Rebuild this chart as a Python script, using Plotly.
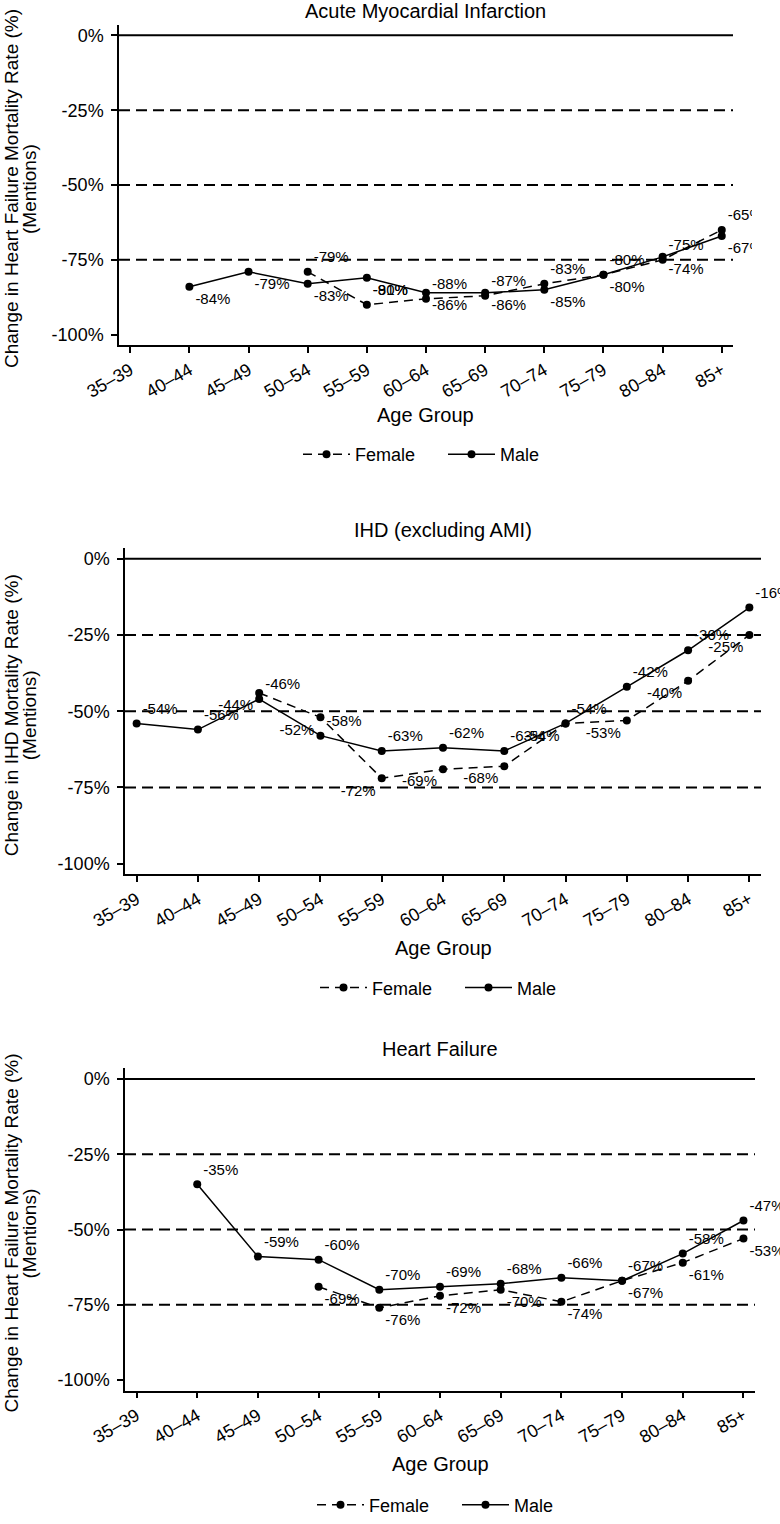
import plotly.graph_objects as go

# ---------------- data ----------------
ages = ["35–39", "40–44", "45–49", "50–54", "55–59", "60–64",
        "65–69", "70–74", "75–79", "80–84", "85+"]

ami_female = [None, None, None, -79, -90, -88, -87, -83, -80, -75, -65]
ami_male = [None, -84, -79, -83, -81, -86, -86, -85, -80, -74, -67]

ihd_female = [None, None, -44, -52, -72, -69, -68, -54, -53, -40, -25]
ihd_male = [-54, -56, -46, -58, -63, -62, -63, -54, -42, -30, -16]

hf_female = [None, None, None, -69, -76, -72, -70, -74, -67, -61, -53]
hf_male = [None, -35, -59, -60, -70, -69, -68, -66, -67, -58, -47]

ytick_vals = [0, -25, -50, -75, -100]
ytick_text = ["0%", "-25%", "-50%", "-75%", "-100%"]
ref_solid = [0]
ref_dashed = [-25, -50, -75]

panel_titles = ["Acute Myocardial Infarction", "IHD (excluding AMI)", "Heart Failure"]
ytitles = ["Change in Heart Failure Mortality Rate (%)",
           "Change in IHD Mortality Rate (%)",
           "Change in Heart Failure Mortality Rate (%)"]

# ---------------- layout geometry (pixels) ----------------
W, H = 780, 1524
FONT = "Liberation Sans, Arial, Helvetica, sans-serif"

panels = [
    dict(female=ami_female, male=ami_male, x=(119, 733), y=(25, 347),
         title_y=11, agegroup_y=417, legend_y=457, right_edge=752,
         fpos="top right", mpos="bottom right"),
    dict(female=ihd_female, male=ihd_male, x=(125, 761), y=(551, 879),
         title_y=533, agegroup_y=953, legend_y=993, right_edge=780,
         fpos="bottom left", mpos="top right"),
    dict(female=hf_female, male=hf_male, x=(125, 755), y=(1074, 1398),
         title_y=1055, agegroup_y=1472, legend_y=1513, right_edge=780,
         fpos="bottom right", mpos="top right"),
]


def px_x(p):
    return p / W


def px_y(p):
    return 1 - p / H


def lbl(vals):
    return [None if v is None else f"{v}%" for v in vals]


fig = go.Figure()
annotations = []
shapes = []

for i, p in enumerate(panels):
    n = "" if i == 0 else str(i + 1)
    xa, ya = "x" + n, "y" + n
    leg = "legend" + n

    fig.add_trace(go.Scatter(
        x=ages, y=p["female"], name="Female", mode="lines+markers+text",
        text=lbl(p["female"]), textposition=p["fpos"],
        textfont=dict(size=15, color="black", family=FONT),
        line=dict(color="black", width=1.5, dash="9px,6px"),
        marker=dict(color="black", size=8),
        xaxis=xa, yaxis=ya, legend=leg, cliponaxis=False))
    fig.add_trace(go.Scatter(
        x=ages, y=p["male"], name="Male", mode="lines+markers+text",
        text=lbl(p["male"]), textposition=p["mpos"],
        textfont=dict(size=15, color="black", family=FONT),
        line=dict(color="black", width=1.5),
        marker=dict(color="black", size=8),
        xaxis=xa, yaxis=ya, legend=leg, cliponaxis=False))

    x0, x1 = p["x"]
    y0, y1 = p["y"]
    cxp = (x0 + x1) / 2
    fig.update_layout(**{
        "xaxis" + n: dict(
            domain=[px_x(x0), px_x(x1)], anchor=ya, type="category",
            categoryorder="array", categoryarray=ages,
            range=[-0.19, 10.19], showline=True, linecolor="black",
            linewidth=1.5, ticks="outside", ticklen=6, tickwidth=1.5,
            tickcolor="black", tickangle=-30,
            tickfont=dict(size=18, color="black", family=FONT),
            showgrid=False, zeroline=False, automargin=False, fixedrange=True),
        "yaxis" + n: dict(
            domain=[px_y(y1), px_y(y0)], anchor=xa, range=[-103.5, 3.5],
            tickvals=ytick_vals, ticktext=ytick_text, showline=True,
            linecolor="black", linewidth=1.5, ticks="outside", ticklen=6,
            tickwidth=1.5, tickcolor="black", ticklabelstandoff=4,
            tickfont=dict(size=18, color="black", family=FONT),
            showgrid=False, zeroline=False, automargin=False, fixedrange=True),
        leg: dict(
            orientation="h", x=px_x(cxp - 128), xanchor="left",
            y=px_y(p["legend_y"]), yanchor="middle",
            font=dict(size=18, color="black", family=FONT),
            bgcolor="rgba(0,0,0,0)", itemwidth=47, traceorder="normal",
            entrywidth=83, entrywidthmode="pixels"),
    })

    for v in ref_solid:
        shapes.append(dict(type="line", xref=xa + " domain", yref=ya,
                           x0=0, x1=1, y0=v, y1=v, layer="below",
                           line=dict(color="black", width=2)))
    for v in ref_dashed:
        shapes.append(dict(type="line", xref=xa + " domain", yref=ya,
                           x0=0, x1=1, y0=v, y1=v, layer="below",
                           line=dict(color="black", width=2, dash="11px,6px")))
    # the source panel image ends at its right edge (labels cut there)
    if p["right_edge"] < W:
        shapes.append(dict(type="rect", xref="paper", yref="paper",
                           x0=px_x(p["right_edge"]), x1=1,
                           y0=px_y(y1), y1=px_y(0), layer="above",
                           fillcolor="white", line=dict(width=0)))

    cx = px_x(cxp)
    annotations.append(dict(text=panel_titles[i], x=cx, y=px_y(p["title_y"]),
                            xref="paper", yref="paper", xanchor="center",
                            yanchor="middle", showarrow=False,
                            font=dict(size=20, color="black", family=FONT)))
    annotations.append(dict(text="Age Group", x=cx, y=px_y(p["agegroup_y"]),
                            xref="paper", yref="paper", xanchor="center",
                            yanchor="middle", showarrow=False,
                            font=dict(size=20, color="black", family=FONT)))
    cy = px_y((y0 + y1) / 2 + 4)
    annotations.append(dict(text=ytitles[i], x=px_x(11), y=cy, xref="paper",
                            yref="paper", xanchor="center", yanchor="middle",
                            textangle=-90, showarrow=False,
                            font=dict(size=19, color="black", family=FONT)))
    annotations.append(dict(text="(Mentions)", x=px_x(29), y=cy, xref="paper",
                            yref="paper", xanchor="center", yanchor="middle",
                            textangle=-90, showarrow=False,
                            font=dict(size=19, color="black", family=FONT)))

fig.update_layout(
    width=W, height=H, margin=dict(l=0, r=0, t=0, b=0),
    paper_bgcolor="white", plot_bgcolor="white",
    annotations=annotations, shapes=shapes,
    font=dict(family=FONT, color="black"),
)

fig.write_html("out.html", config={"displayModeBar": False},
               post_script="document.body.style.margin='0px';")
